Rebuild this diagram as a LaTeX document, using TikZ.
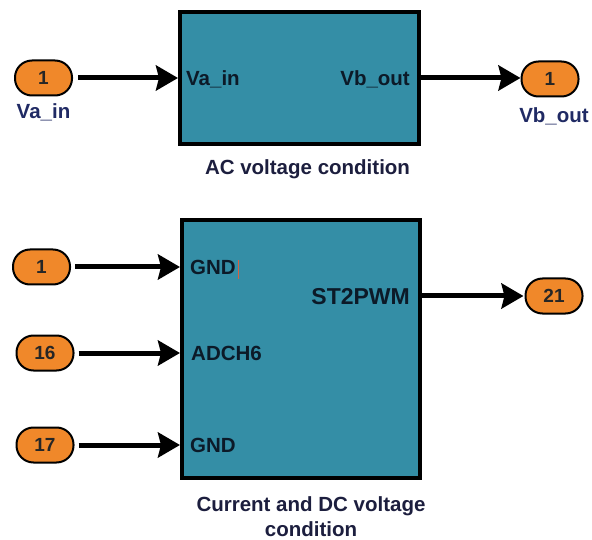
\documentclass[tikz,border=0pt]{standalone}
\usepackage{fontspec}
\setmainfont{Liberation Sans}
\usetikzlibrary{positioning, arrows.meta, calc}
\definecolor{blockfill}{RGB}{52,142,166}
\definecolor{portfill}{RGB}{240,136,42}
\definecolor{captiontext}{RGB}{28,30,62}
\definecolor{portname}{RGB}{32,42,100}
\definecolor{blocktext}{RGB}{12,26,40}
\definecolor{cursorred}{RGB}{214,96,64}
\tikzset{
  block/.style={
    rectangle, draw=black, line width=4pt, fill=blockfill, inner sep=0pt
  },
  port/.style={
    rectangle, rounded corners=17pt, draw=black, line width=2pt, fill=portfill,
    minimum width=57pt, minimum height=35pt, inner sep=0pt,
    font=\fontsize{19}{19}\selectfont\bfseries, text=black!85
  },
  pin label/.style={
    inner sep=0pt, text height=15pt, text depth=0pt,
    font=\fontsize{20.5}{20.5}\selectfont\bfseries, text=blocktext
  },
  caption/.style={
    inner sep=0pt, align=center,
    font=\fontsize{20.5}{25}\selectfont\bfseries, text=captiontext
  },
  signal/.style={draw, line width=5pt, -{Stealth[length=22pt, width=25pt, inset=3pt]}},
}

\begin{document}
\begin{tikzpicture}[x=1pt, y=-1pt]
  \useasboundingbox (0,0) rectangle (592,540);

  % AC voltage condition
  \node[block, minimum width=239pt, minimum height=132pt] (acblk) at (299.5,78) {};
  \node[pin label, right=8pt of acblk.west] {Va\_in};
  \node[pin label, left=11pt of acblk.east] {Vb\_out};
  \node[caption, below=13pt of acblk, xshift=8pt] {AC voltage condition};

  \node[port] (pinV) at (43.5,78) {1};
  \node[caption, below=7pt of pinV, text=portname] {Va\_in};
  \node[port] (poutV) at (550,79) {1};
  \node[caption, below=10pt of poutV, xshift=4pt, text=portname] {Vb\_out};

  \draw[signal] ([xshift=5pt]pinV.east) -- (acblk.west);
  \draw[signal] (acblk.east) -- (acblk.east -| poutV.west);

  % Current and DC voltage condition
  \node[block, minimum width=238pt, minimum height=258pt] (dcblk) at (301,349) {};
  \node[caption, below=16pt of dcblk, xshift=10pt] {Current and DC voltage\\condition};

  \node[port] (pinA) at (41.5,267) {1};
  \node[port] (pinB) at (45,353) {16};
  \node[port] (pinC) at (45,445) {17};
  \node[port] (poutD) at (554,296) {21};

  \node[pin label, anchor=west] at ($(pinA -| dcblk.west)+(10,0)$) {GND};
  \node[pin label, anchor=west] at ($(pinB -| dcblk.west)+(11,0)$) {ADCH6};
  \node[pin label, anchor=west] at ($(pinC -| dcblk.west)+(10,0)$) {GND};
  \node[pin label, anchor=east, text height=16.5pt,
        font=\fontsize{23}{23}\selectfont\bfseries] at ($(poutD -| dcblk.east)+(-12,0)$) {ST2PWM};
  \draw[cursorred, line width=0.8pt] (238,260) -- (238,279);

  \foreach \src in {pinA, pinB, pinC}
    \draw[signal] ([xshift=4pt]\src.east) -- (\src -| dcblk.west);
  \draw[signal] (poutD -| dcblk.east) -- ([xshift=-1pt]poutD.west);
\end{tikzpicture}
\end{document}
